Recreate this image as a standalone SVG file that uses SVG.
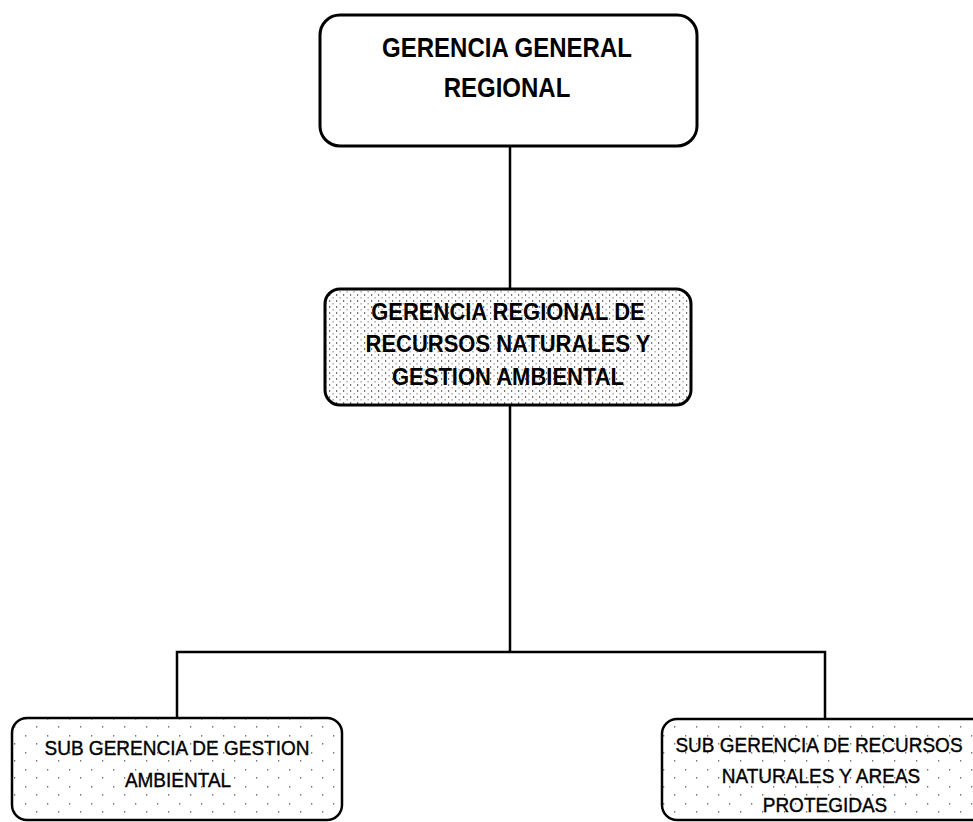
<svg xmlns="http://www.w3.org/2000/svg" width="973" height="822" viewBox="0 0 973 822">
<style>
.box{stroke:#000;stroke-width:3;fill:#fff}
.t{font-family:"Liberation Sans",Arial,sans-serif;fill:#000;text-anchor:middle}
.b{font-weight:bold}
.m{stroke:#000;stroke-width:0.35}
.conn{stroke:#000;stroke-width:2.5;fill:none}
</style>
<defs>
<pattern id="stip" width="7" height="6" patternUnits="userSpaceOnUse">
<rect width="7" height="6" fill="#fff"/>
<rect x="0" y="0" width="1.2" height="2" fill="#777"/>
<rect x="3.5" y="3" width="1.2" height="1.5" fill="#999"/>
</pattern>
<pattern id="sparse" width="22" height="17" patternUnits="userSpaceOnUse">
<rect width="22" height="17" fill="#fff"/>
<rect x="3" y="4" width="1.3" height="1.6" fill="#777"/>
<rect x="14" y="12" width="1.3" height="1.6" fill="#777"/>
</pattern>
</defs>
<g id="connectors">
<line class="conn" x1="510" y1="146" x2="510" y2="289"/>
<line class="conn" x1="510" y1="405" x2="510" y2="652"/>
<polyline class="conn" points="177,718 177,652 825,652 825,719"/>
</g>
<g id="n1">
<rect class="box" x="320" y="15" width="377" height="131" rx="20"/>
<text class="t b" font-size="24" transform="translate(507,57) scale(1,1.15)">GERENCIA GENERAL</text>
<text class="t b" font-size="24" transform="translate(507,97) scale(1,1.15)">REGIONAL</text>
</g>
<g id="n2">
<rect class="box" x="325" y="289" width="366" height="116" rx="15" style="fill:url(#stip)"/>
<text class="t b" font-size="22" transform="translate(508,320) scale(1,1.08)">GERENCIA REGIONAL DE</text>
<text class="t b" font-size="22" transform="translate(508,352) scale(1,1.08)">RECURSOS NATURALES Y</text>
<text class="t b" font-size="22" transform="translate(508,385) scale(1,1.08)">GESTION AMBIENTAL</text>
</g>
<g id="n3">
<rect class="box" x="12" y="718" width="330" height="102" rx="15" style="fill:url(#sparse);stroke-width:2.5"/>
<text class="t m" font-size="19" transform="translate(177,755) scale(1,1.1)">SUB GERENCIA DE GESTION</text>
<text class="t m" font-size="19" transform="translate(178,787) scale(1,1.1)">AMBIENTAL</text>
</g>
<g id="n4">
<rect class="box" x="662" y="719" width="330" height="101" rx="15" style="fill:url(#sparse);stroke-width:2.5"/>
<text class="t m" font-size="19" transform="translate(819,752) scale(1,1.1)">SUB GERENCIA DE RECURSOS</text>
<text class="t m" font-size="19" transform="translate(821,783) scale(1,1.1)">NATURALES Y AREAS</text>
<text class="t m" font-size="19" transform="translate(825,812) scale(1,1.1)">PROTEGIDAS</text>
</g>
</svg>
